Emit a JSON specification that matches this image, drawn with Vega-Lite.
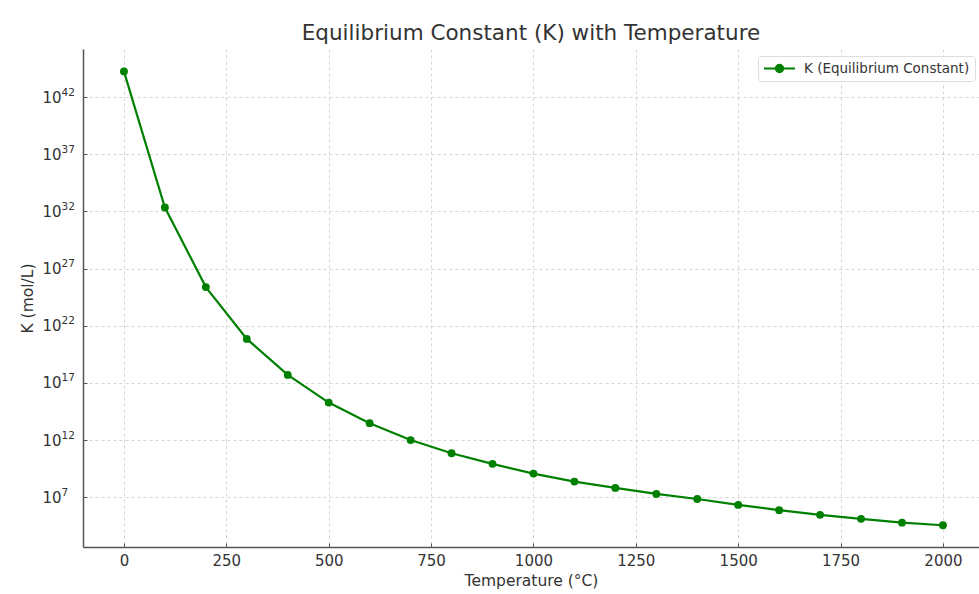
{
  "$schema": "https://vega.github.io/schema/vega-lite/v6.json",
  "autosize": {"type": "none"},
  "padding": {"left": 83, "top": 49, "right": 0, "bottom": 47},
  "width": 896,
  "height": 498,
  "background": "white",
  "config": {
    "view": {"stroke": null},
    "font": "DejaVu Sans"
  },
  "title": {
    "text": "Equilibrium Constant (K) with Temperature",
    "fontSize": 21.5,
    "fontWeight": "normal",
    "color": "#333333",
    "font": "DejaVu Sans",
    "anchor": "middle",
    "offset": 5
  },
  "data": {
    "values": [
      {"T": 0, "K": 1.74e44, "series": "K (Equilibrium Constant)"},
      {"T": 100, "K": 2.19e32, "series": "K (Equilibrium Constant)"},
      {"T": 200, "K": 2.40e25, "series": "K (Equilibrium Constant)"},
      {"T": 300, "K": 7.08e20, "series": "K (Equilibrium Constant)"},
      {"T": 400, "K": 5.01e17, "series": "K (Equilibrium Constant)"},
      {"T": 500, "K": 1.91e15, "series": "K (Equilibrium Constant)"},
      {"T": 600, "K": 3.02e13, "series": "K (Equilibrium Constant)"},
      {"T": 700, "K": 1.0e12, "series": "K (Equilibrium Constant)"},
      {"T": 800, "K": 7.08e10, "series": "K (Equilibrium Constant)"},
      {"T": 900, "K": 8.32e9, "series": "K (Equilibrium Constant)"},
      {"T": 1000, "K": 1.17e9, "series": "K (Equilibrium Constant)"},
      {"T": 1100, "K": 2.34e8, "series": "K (Equilibrium Constant)"},
      {"T": 1200, "K": 6.61e7, "series": "K (Equilibrium Constant)"},
      {"T": 1300, "K": 1.95e7, "series": "K (Equilibrium Constant)"},
      {"T": 1400, "K": 7.08e6, "series": "K (Equilibrium Constant)"},
      {"T": 1500, "K": 2.14e6, "series": "K (Equilibrium Constant)"},
      {"T": 1600, "K": 7.41e5, "series": "K (Equilibrium Constant)"},
      {"T": 1700, "K": 2.88e5, "series": "K (Equilibrium Constant)"},
      {"T": 1800, "K": 1.29e5, "series": "K (Equilibrium Constant)"},
      {"T": 1900, "K": 6.03e4, "series": "K (Equilibrium Constant)"},
      {"T": 2000, "K": 3.55e4, "series": "K (Equilibrium Constant)"}
    ]
  },
  "resolve": {"axis": {"y": "independent"}},
  "layer": [
    {
      "mark": {"type": "line", "strokeWidth": 2.2, "point": {"filled": true, "size": 62}},
      "encoding": {
        "x": {
          "field": "T",
          "type": "quantitative",
          "scale": {"domain": [-100, 2088], "nice": false, "zero": false},
          "axis": {
            "title": "Temperature (°C)",
            "values": [0, 250, 500, 750, 1000, 1250, 1500, 1750, 2000],
            "format": "d",
            "titleFontSize": 15.5,
            "titleFontWeight": "normal",
            "titleColor": "#333333",
            "titlePadding": 5,
            "labelFontSize": 15,
            "labelColor": "#333333",
            "labelPadding": 10,
            "tickSize": -4,
            "tickColor": "#555555",
            "domainColor": "#555555",
            "domainWidth": 1.5,
            "grid": true,
            "gridColor": "#cccccc",
            "gridDash": [3, 3],
            "gridWidth": 0.8
          }
        },
        "y": {
          "field": "K",
          "type": "quantitative",
          "scale": {"type": "log", "domain": [446.7, 1.585e46], "nice": false},
          "axis": {
            "orient": "left",
            "title": "K (mol/L)",
            "values": [1e7, 1e12, 1e17, 1e22, 1e27, 1e32, 1e37, 1e42],
            "labelExpr": "'10'",
            "titleFontSize": 15.5,
            "titleFontWeight": "normal",
            "titleColor": "#333333",
            "titlePadding": 6,
            "labelFontSize": 15,
            "labelColor": "#333333",
            "labelPadding": 26,
            "labelAlign": "right",
            "tickSize": -4,
            "tickColor": "#555555",
            "domainColor": "#555555",
            "domainWidth": 1.5,
            "grid": true,
            "gridColor": "#cccccc",
            "gridDash": [3, 3],
            "gridWidth": 0.8
          }
        },
        "color": {
          "field": "series",
          "type": "nominal",
          "scale": {"range": ["#008000"]},
          "legend": {
            "title": null,
            "orient": "none",
            "legendX": 675,
            "legendY": 7,
            "padding": 5,
            "fillColor": "white",
            "strokeColor": "#dddddd",
            "cornerRadius": 3,
            "labelFontSize": 13.5,
            "labelLimit": 400,
            "labelColor": "#333333",
            "labelOffset": 8,
            "clipHeight": 15,
            "symbolType": "M-1,0L1,0M-0.24,0A0.24,0.24 0 1,1 0.24,0A0.24,0.24 0 1,1 -0.24,0Z",
            "symbolSize": 961,
            "symbolStrokeWidth": 2,
            "symbolFillColor": "#008000",
            "symbolStrokeColor": "#008000"
          }
        }
      }
    },
    {
      "mark": {"type": "point", "opacity": 0},
      "encoding": {
        "x": {
          "field": "T",
          "type": "quantitative",
          "axis": {
            "title": "Temperature (°C)",
            "values": [0, 250, 500, 750, 1000, 1250, 1500, 1750, 2000],
            "format": "d",
            "titleFontSize": 15.5,
            "titleFontWeight": "normal",
            "titleColor": "#333333",
            "titlePadding": 5,
            "labelFontSize": 15,
            "labelColor": "#333333",
            "labelPadding": 10,
            "tickSize": -4,
            "tickColor": "#555555",
            "domainColor": "#555555",
            "domainWidth": 1.5,
            "grid": true,
            "gridColor": "#cccccc",
            "gridDash": [3, 3],
            "gridWidth": 0.8
          }
        },
        "y": {
          "field": "K",
          "type": "quantitative",
          "axis": {
            "orient": "left",
            "title": null,
            "values": [1e7, 1e12, 1e17, 1e22, 1e27, 1e32, 1e37, 1e42],
            "labelExpr": "'' + round(log(datum.value)/LN10)",
            "labelFontSize": 10.5,
            "labelColor": "#333333",
            "labelPadding": 22,
            "labelAlign": "left",
            "labelOffset": -5,
            "ticks": false,
            "domain": false,
            "grid": false
          }
        }
      }
    }
  ]
}
